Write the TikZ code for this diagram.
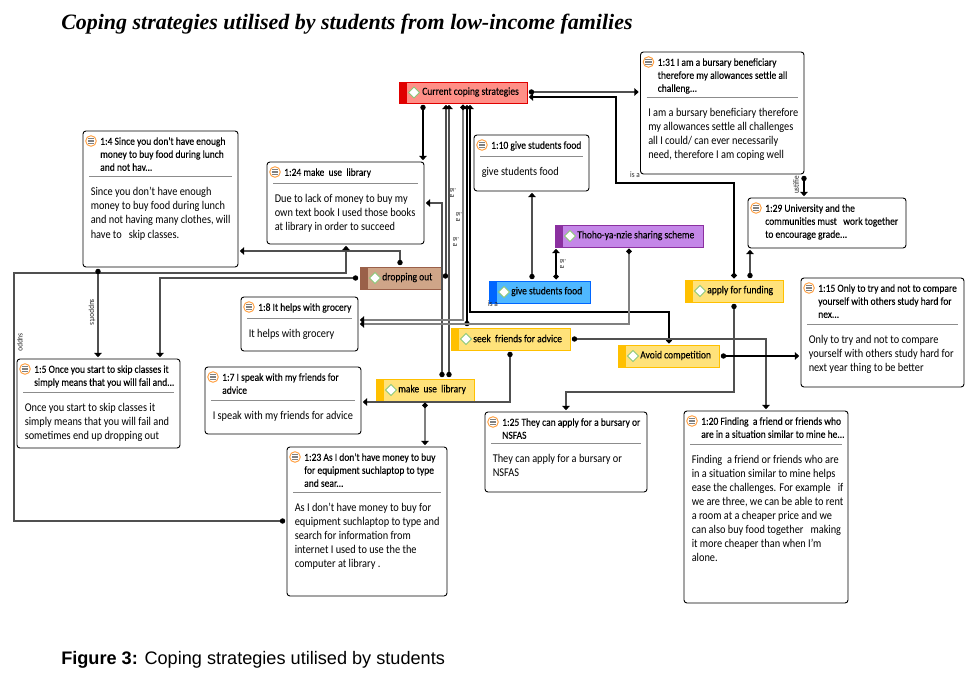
\documentclass[tikz,border=0pt]{standalone}
\usepackage{fontspec}
\setmainfont[FakeStretch=0.87]{Carlito}
\newfontfamily\titlef{Liberation Serif}
\newfontfamily\capf{Liberation Sans}
\newfontfamily\hdrf[FakeBold=0.12,FakeStretch=0.88]{Carlito}
\usetikzlibrary{arrows.meta,calc}
\definecolor{lnk}{HTML}{505050}
\definecolor{lnkg}{HTML}{808080}
\definecolor{redf}{HTML}{FF8F87}\definecolor{redd}{HTML}{E00000}
\definecolor{purf}{HTML}{C487E8}\definecolor{purd}{HTML}{8B30A0}
\definecolor{bluf}{HTML}{4FB8FF}\definecolor{blud}{HTML}{0066FF}
\definecolor{brof}{HTML}{CFA588}\definecolor{brod}{HTML}{9A6049}
\definecolor{yelf}{HTML}{FFE27A}\definecolor{yeld}{HTML}{FFC000}
\definecolor{diag}{HTML}{8CC878}
\tikzset{
 x=0.75pt,y=-0.75pt,
 memobox/.style={draw=black,line width=0.7pt,rounded corners=2.2pt,fill=white,inner sep=0pt},
 hdrtext/.style={anchor=north west,inner sep=0pt,align=left,font=\hdrf\fontsize{8.1pt}{9.75pt}\selectfont},
 bodytext/.style={anchor=north west,inner sep=0pt,align=left,font=\fontsize{8.9pt}{10.6pt}\selectfont},
 codebox/.style={inner sep=0pt,line width=0.7pt},
 codetext/.style={anchor=west,inner sep=0pt,font=\hdrf\fontsize{8.1pt}{10pt}\selectfont},
 conn/.style={lnk,line width=0.8pt,{Circle[length=4pt,width=4pt,black]}-{Triangle[length=3.2pt,width=5.6pt,black]},shorten <=1pt,shorten >=1pt},
 conngray/.style={conn,lnkg,line width=1.1pt},
 connblack/.style={conn,black},
 connthick/.style={conn,black,line width=1.7pt},
 linklab/.style={inner sep=0pt,font=\fontsize{6.2pt}{7pt}\selectfont,text=black!85},
}
\newcommand\memo[9]{%
 % name, l, t, r, b, rule y, header top, header, body
 \node[memobox,minimum width={(#4-#2)*0.75pt},minimum height={(#5-#3)*0.75pt}] (#1) at ({(#2+#4)/2},{(#3+#5)/2}) {};
 \draw[orange!75,fill=white,line width=0.7pt] (#2+8,#3+10) circle[radius=5.3];
 \foreach \yy in {-2.6,-0.9,0.8,2.5} \draw[black!50,line width=0.55pt] (#2+4.8,#3+10+\yy) -- (#2+11.2,#3+10+\yy);
 \node[hdrtext] (#1-h) at (#2+17,#7+3) {#8};
 \def\tmpbody{#9}%
 \ifx\tmpbody\empty\else
 \draw[black!45,line width=0.6pt] (#2+6,#6) -- (#4-6,#6);
 \node[bodytext] (#1-b) at (#2+7.5,#6+10.5) {#9};
 \fi
}
\newcommand\code[9]{%
 % name, l, t, r, b, fill, dark, text indent, text
 \node[codebox,draw=#7,fill=#6,minimum width={(#4-#2)*0.75pt},minimum height={(#5-#3)*0.75pt}] (#1) at ({(#2+#4)/2},{(#3+#5)/2}) {};
 \fill[#7] (#2,#3) rectangle (#2+7.5,#5);
 \draw[diag,fill=white,line width=0.7pt] (#2+9.5,{(#3+#5)/2}) -- (#2+15,{(#3+#5)/2-5.5}) -- (#2+20.5,{(#3+#5)/2}) -- (#2+15,{(#3+#5)/2+5.5}) -- cycle;
 \node[codetext] (#1-t) at (#2+#8,{(#3+#5)/2-0.5}) {#9};
}
\begin{document}
\begin{tikzpicture}
\useasboundingbox (0,0) rectangle (972,684);
\fill[white] (0,0) rectangle (972,684);
\node[anchor=base west,inner sep=0pt,font=\titlef\bfseries\itshape\fontsize{16.46pt}{18pt}\selectfont] (title) at (61,30) {Coping strategies utilised by students from low-income families};
\node[anchor=base west,inner sep=0pt,font=\capf\fontsize{13.6pt}{15pt}\selectfont] (caption) at (61,664) {\textbf{Figure 3:} Coping strategies utilised by students};

\foreach \v in {14,92,97,98,160,183,203,251,273,276,278,312,320,324,339,346,356,392,400,402,423,425,442,446,449,463,467,470,510,521,532,556,566,616,629,669,734,750,766,804}
 {\coordinate (x\v) at (\v,0); \coordinate (y\v) at (0,\v);}

\memo{q31}{640.5}{52}{804}{174}{97.5}{55}{1:31 I am a bursary beneficiary\\therefore my allowances settle all\\challeng...}{I am a bursary beneficiary therefore\\my allowances settle all challenges\\all I could/ can ever necessarily\\need, therefore I am coping well}
\memo{q29}{748}{198}{906}{248}{0}{201}{1:29 University and the\\communities must \ \ work together\\to encourage grade...}{}
\memo{q15}{801}{278}{964}{387}{324}{281}{1:15 Only to try and not to compare\\yourself with others study hard for\\nex...}{Only to try and not to compare\\yourself with others study hard for\\next year thing to be better}
\memo{q20}{684}{411}{848}{603}{444}{414}{1:20 Finding \ a friend or friends who\\are in a situation similar to mine he...}{Finding \ a friend or friends who are\\in a situation similar to mine helps\\ease the challenges. For example \ \ if\\we are three, we can be able to rent\\a room at a cheaper price and we\\can also buy food together \ \ making\\it more cheaper than when I'm\\alone.}
\memo{q25}{485}{412}{647}{492}{443}{415}{1:25 They can apply for a bursary or\\NSFAS}{They can apply for a bursary or\\NSFAS}
\memo{q23}{287}{447}{447}{596}{492}{450}{1:23 As I don't have money to buy\\for equipment suchlaptop to type\\and sear...}{As I don't have money to buy for\\equipment suchlaptop to type and\\search for information from\\internet I used to use the the\\computer at library .}
\memo{q7}{205}{367}{361}{434}{400}{370}{1:7 I speak with my friends for\\advice}{I speak with my friends for advice}
\memo{q8}{241}{297}{358}{351}{318}{300}{1:8 It helps with grocery}{It helps with grocery}
\memo{q5}{17}{359}{180}{448}{392}{362}{1:5 Once you start to skip classes it\\simply means that you will fail and...}{Once you start to skip classes it\\simply means that you will fail and\\sometimes end up dropping out}
\memo{q4}{83}{131}{238}{267}{176.5}{134}{1:4 Since you don't have enough\\money to buy food during lunch\\and not hav...}{Since you don't have enough\\money to buy food during lunch\\and not having many clothes, will\\have to \ \ skip classes.}
\memo{q24}{267}{162}{424}{244}{183}{165}{1:24 make \ use \ library}{Due to lack of money to buy my\\own text book I used those books\\at library in order to succeed}
\memo{q10}{474}{135}{589}{191}{156}{138}{1:10 give students food}{give students food}

\code{cur}{399}{82}{527}{103}{redf}{redd}{23}{Current coping strategies}
\code{thoho}{555}{225}{703}{247}{purf}{purd}{22}{Thoho-ya-nzie sharing scheme}
\code{give}{489}{281}{590}{303}{bluf}{blud}{22}{give students food}
\code{drop}{360}{267}{441}{289}{brof}{brod}{22}{dropping out}
\code{seek}{451}{328}{570}{350}{yelf}{yeld}{22}{seek \ friends for advice}
\code{make}{376}{379}{474}{401}{yelf}{yeld}{22}{make \ use \ library}
\code{avoid}{618}{345}{719}{367}{yelf}{yeld}{22}{Avoid competition}
\code{apply}{685}{280}{783}{302}{yelf}{yeld}{22}{apply for funding}

\draw[connblack] (x423 |- cur.south) -- (x423 |- q24.north);
\draw[conn] (cur.east |- y92) -- (q31.west |- y92);
\draw[connthick] (x734 |- apply.north) -- (x734 |- y183) -- (x616 |- y183) -- (x616 |- y97) -- (cur.east |- y97);
\draw[conn] (drop.east |- y276) -- (x446 |- y276) -- (x446 |- cur.south);
\draw[conn] (x442 |- make.north) -- (x442 |- y203) -- (q24.east |- y203);
\draw[conn] (x449 |- make.north) -- (x449 |- cur.south);
\draw[conngray] (x463 |- cur.south) -- (x463 |- y320) -- (q8.east |- y320);
\draw[connblack] (x467 |- seek.north) -- (x467 |- cur.south);
\draw[connthick] (x669 |- avoid.north) -- (x669 |- y312) -- (x470 |- y312) -- (x470 |- cur.south);
\draw[conngray] (x629 |- thoho.south) -- (x629 |- y324) -- (q8.east |- y324);
\draw[conn] (x532 |- give.north) -- (x532 |- q10.south);
\draw[connblack,line width=1.1pt] (x556 |- give.north) -- (x556 |- thoho.south);
\draw[conn] (x400 |- drop.north) -- (x400 |- y251) -- (q4.east |- y251);
\draw[conn] (drop.west |- y278) -- (x160 |- y278) -- (x160 |- q5.north);
\draw[conn] (q23.west |- y521) -- (x14 |- y521) -- (x14 |- y273) -- (x346 |- y273) -- (x346 |- q24.south);
\draw[conn] (x98 |- q4.south) -- (x98 |- q5.north);
\draw[conn] (x510 |- seek.south) -- (x510 |- y402) -- (q7.east |- y402);
\draw[conn] (seek.east |- y339) -- (x766 |- y339) -- (x766 |- q20.north);
\draw[conngray] (x425 |- make.south) -- (x425 |- q23.north);
\draw[conn] (x734 |- apply.south) -- (x734 |- y392) -- (x566 |- y392) -- (x566 |- q25.north);
\draw[conn] (x750 |- apply.north) -- (x750 |- q29.south);
\draw[connblack] (x804 |- q31.south) -- (x804 |- q29.north);
\draw[connblack] (avoid.east |- y356) -- (q15.west |- y356);

\node[linklab,rotate=-90] (la1) at (453,193) {is a};
\node[linklab,rotate=-90] (la2) at (459,217) {is a};
\node[linklab,rotate=-90] (la3) at (456,242) {is a};
\node[linklab,rotate=-90] (la4) at (563,264) {is a};
\node[linklab] (la5) at (635,174.5) {is a};
\node[linklab] (la6) at (493,303.5) {is a};
\node[linklab,rotate=-90] (la7) at (92,312) {supports};
\node[linklab,rotate=-90,anchor=west] (la8) at (20,333) {suppo};
\node[linklab,rotate=90] (la9) at (796,185) {ustifie};
\end{tikzpicture}
\end{document}
